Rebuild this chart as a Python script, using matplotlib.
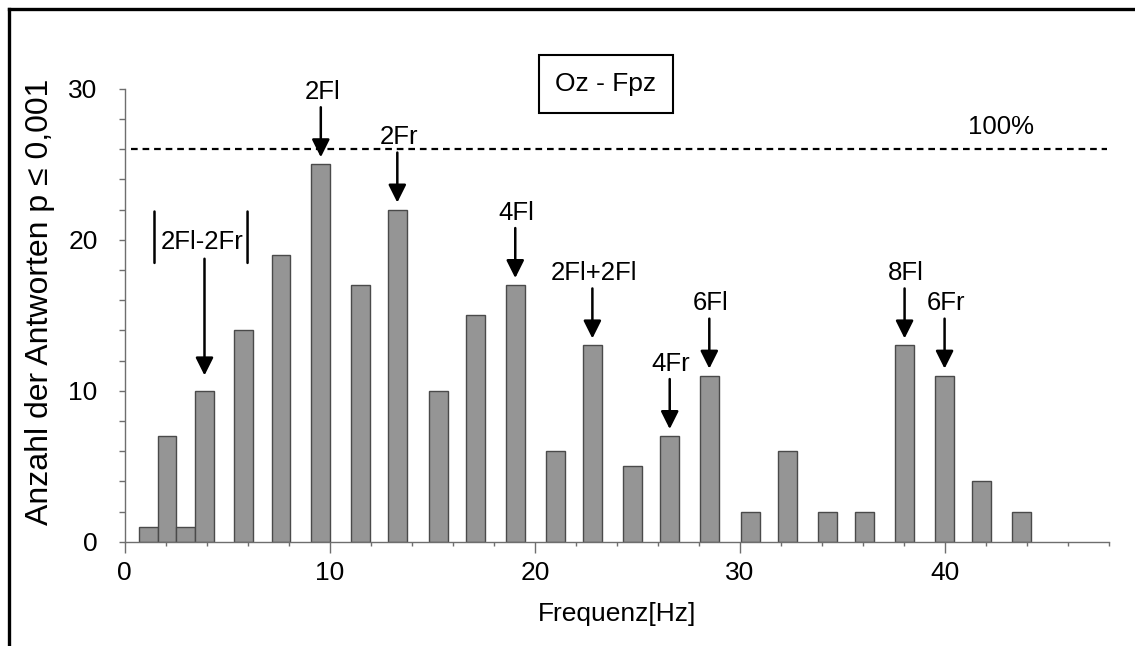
import matplotlib
matplotlib.use("Agg")
import matplotlib.pyplot as plt
from matplotlib.transforms import offset_copy
from matplotlib.lines import Line2D
from matplotlib.patches import Rectangle

# ---- data ----
freqs = [1.15, 2.06, 2.98, 3.89, 5.81, 7.62, 9.56, 11.5, 13.29, 15.29, 17.1, 19.04,
         20.99, 22.8, 24.75, 26.57, 28.5, 30.5, 32.31, 34.26, 36.05, 38.02, 39.97,
         41.79, 43.73]
counts = [1, 7, 1, 10, 14, 19, 25, 17, 22, 10, 15, 17, 6, 13, 5, 7, 11, 2, 6, 2, 2,
          13, 11, 4, 2]
ann_labels = ["2Fl", "2Fr", "4Fl", "2Fl+2Fl", "4Fr", "6Fl", "8Fl", "6Fr"]
ann_index = [6, 8, 11, 13, 15, 16, 21, 22]
diff_label = "2Fl-2Fr"
diff_index = 3
ref_level = 26
ref_label = "100%"
title_box = "Oz - Fpz"
xlabel = "Frequenz[Hz]"
ylabel = "Anzahl der Antworten p \u2264 0,001"
xticks_major = [0, 10, 20, 30, 40]
yticks_major = [0, 10, 20, 30]

plt.rcParams['font.family'] = ['Liberation Sans', 'DejaVu Sans']

FS = 19
FS_ANN = 18.5

W, H = 1135, 646
fig = plt.figure(figsize=(W / 100, H / 100), dpi=100)
fig.patch.set_facecolor('white')

ax_l, ax_r, ax_b, ax_t = 124.7, 1109.3, 541.7, 88.7
ax = fig.add_axes([ax_l / W, 1 - ax_b / H, (ax_r - ax_l) / W, (ax_b - ax_t) / H])

ax.bar(freqs, counts, width=0.92, color='#959595', edgecolor='#4a4a4a',
       linewidth=1.0, zorder=2)

ax.set_xlim(0, 48)
ax.set_ylim(0, 30)
for s in ['top', 'right']:
    ax.spines[s].set_visible(False)
for s in ['left', 'bottom']:
    ax.spines[s].set_color('#6e6e6e')
    ax.spines[s].set_linewidth(1.0)

ax.set_xticks(xticks_major)
ax.set_xticks(list(range(0, 49, 2)), minor=True)
ax.set_yticks(yticks_major)
ax.set_yticks(list(range(0, 31, 2)), minor=True)
ax.tick_params(axis='x', which='major', length=8, width=1.0, color='#6e6e6e',
               labelsize=FS, pad=6)
ax.tick_params(axis='x', which='minor', length=3, width=1.0, color='#6e6e6e')
ax.tick_params(axis='y', which='both', length=4.5, width=1.0, color='#6e6e6e',
               labelsize=FS, pad=15)

ax.set_xlabel(xlabel, fontsize=FS, labelpad=12)
fig.text(40 / W, 1 - 302 / H, ylabel, rotation=90, ha='center', va='center',
         fontsize=23)

# reference dashed line
ax.hlines(ref_level, 0.3, 47.9, colors='black', linewidth=1.6,
          linestyles=(0, (3, 2.2)), zorder=3)
ax.text(42.7, ref_level + 1.45, ref_label, ha='center', va='center', fontsize=FS_ANN)

# annotations with arrows
arrowprops = dict(arrowstyle='-|>', color='black', lw=1.8, shrinkA=0, shrinkB=5,
                  mutation_scale=27)
for lab, i in zip(ann_labels, ann_index):
    x, h = freqs[i], counts[i]
    ax.annotate('', xy=(x, h), xytext=(0, 41), textcoords='offset points',
                arrowprops=arrowprops)
    ax.annotate(lab, xy=(x, h), xytext=(1, 52), textcoords='offset points',
                ha='center', va='center', fontsize=FS_ANN)

# |2Fl-2Fr| annotation
x, h = freqs[diff_index], counts[diff_index]
ap2 = dict(arrowprops)
ap2['shrinkB'] = 11
ax.annotate('', xy=(x, h), xytext=(0, 95), textcoords='offset points',
            arrowprops=ap2)
ax.annotate(diff_label, xy=(x, h), xytext=(-2, 107), textcoords='offset points',
            ha='center', va='center', fontsize=FS_ANN)
for dx in (-36, 31):
    tr = offset_copy(ax.transData, fig=fig, x=dx, y=92, units='points')
    ax.annotate('', xy=(x, h), xycoords=tr, xytext=(0, 37),
                textcoords='offset points',
                arrowprops=dict(arrowstyle='-', color='black', lw=1.8,
                                shrinkA=0, shrinkB=0))

# title box
bx0, bx1, by0, by1 = 539, 673, 55, 113
fig.add_artist(Rectangle((bx0 / W, 1 - by1 / H), (bx1 - bx0) / W, (by1 - by0) / H,
                         transform=fig.transFigure, fill=False, edgecolor='black',
                         linewidth=1.5))
fig.text((bx0 + bx1) / 2 / W, 1 - (by0 + by1) / 2 / H, title_box, ha='center',
         va='center', fontsize=FS)

# outer frame (left + top visible)
fig.add_artist(Line2D([9 / W, 9 / W], [0, 1 - 9 / H], transform=fig.transFigure,
                      color='black', linewidth=2.4))
fig.add_artist(Line2D([9 / W, 1], [1 - 9 / H, 1 - 9 / H], transform=fig.transFigure,
                      color='black', linewidth=2.4))

fig.savefig('out.png', dpi=100)
